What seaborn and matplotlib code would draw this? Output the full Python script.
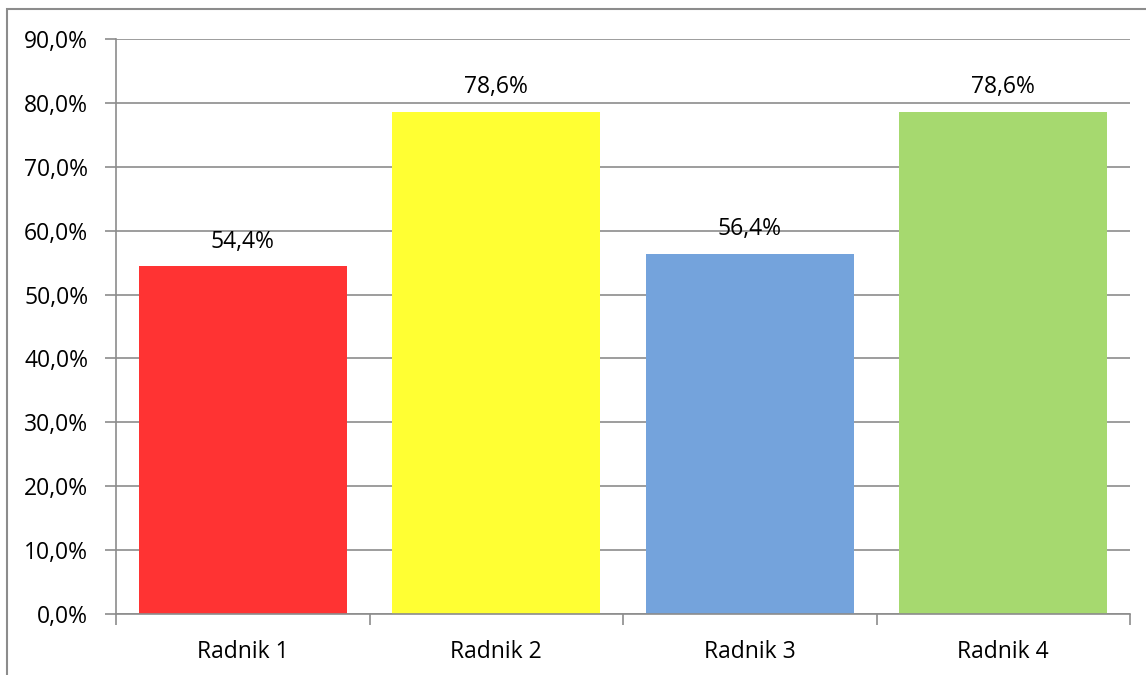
import numpy as np
import pandas as pd
import matplotlib
matplotlib.use("Agg")
import matplotlib.pyplot as plt
import seaborn as sns
from matplotlib.patches import Rectangle
from matplotlib.ticker import FuncFormatter, MultipleLocator

# data
radnici = ["Radnik 1", "Radnik 2", "Radnik 3", "Radnik 4"]
postotak = [54.4, 78.6, 56.4, 78.6]
boje = ["#FF3333", "#FFFF33", "#74A3DC", "#A6D96F"]

df = pd.DataFrame({"radnik": radnici, "postotak": postotak})

sns.set_style("white")
plt.rcParams["font.family"] = ["Open Sans", "DejaVu Sans"]
plt.rcParams["text.color"] = "black"
plt.rcParams["xtick.labelcolor"] = "black"
plt.rcParams["ytick.labelcolor"] = "black"

fig = plt.figure(figsize=(11.46, 6.75), dpi=100)
ax = fig.add_axes([116 / 1146, 1 - 614 / 675, (1130 - 116) / 1146, (614 - 39) / 675])

sns.barplot(data=df, x="radnik", y="postotak", hue="radnik", palette=boje,
            width=0.82, saturation=1, legend=False, linewidth=0, ax=ax)

ax.set_ylim(0, 90)
ax.set_xlim(-0.5, 3.5)
ax.yaxis.set_major_locator(MultipleLocator(10))
ax.yaxis.set_major_formatter(FuncFormatter(lambda v, p: f"{v:.1f}%".replace(".", ",")))
ax.grid(axis="y", color="#8C8C8C", linewidth=1.2)
ax.set_axisbelow(True)

# category boundary ticks on x axis
ax.set_xticks(np.arange(-0.5, 4, 1), minor=True)
ax.tick_params(axis="x", which="major", length=0, pad=19, labelsize=16.5)
ax.tick_params(axis="x", which="minor", length=8, width=1.2, color="#8C8C8C", direction="out")
ax.tick_params(axis="y", length=8, width=1.2, color="#8C8C8C", direction="out", pad=12, labelsize=16.5)
ax.yaxis.set_ticks_position("left")
ax.xaxis.set_ticks_position("bottom")

for s in ["top", "right"]:
    ax.spines[s].set_visible(False)
for s in ["left", "bottom"]:
    ax.spines[s].set_color("#8C8C8C")
    ax.spines[s].set_linewidth(1.2)

ax.set_xlabel("")
ax.set_ylabel("")

for i, v in enumerate(postotak):
    ax.annotate(f"{v:.1f}%".replace(".", ","), (i, v), xytext=(0, 9),
                textcoords="offset points", ha="center", va="bottom", fontsize=16.5)

# outer chart border (only top and left visible in the reference)
fig.patches.append(Rectangle((7 / 1146, -0.1), 1.2, 1 - 9 / 675 + 0.1,
                             transform=fig.transFigure, fill=False,
                             edgecolor="#8C8C8C", linewidth=1.5))

fig.savefig("out.png", dpi=100)
